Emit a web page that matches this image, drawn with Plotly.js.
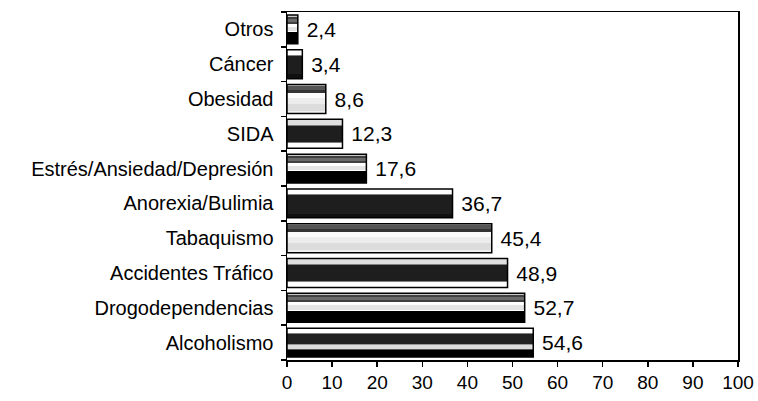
<!DOCTYPE html>
<html>
<head>
<meta charset="utf-8">
<script src="https://cdn.plot.ly/plotly-3.0.1.min.js"></script>
<style>
html,body{margin:0;padding:0;background:#fff;}
#chart{width:758px;height:401px;}
</style>
</head>
<body>
<div id="chart"></div>
<script>
// Data (bottom to top)
const categories = ["Alcoholismo","Drogodependencias","Accidentes Tráfico","Tabaquismo","Anorexia/Bulimia","Estrés/Ansiedad/Depresión","SIDA","Obesidad","Cáncer","Otros"];
const values = [54.6, 52.7, 48.9, 45.4, 36.7, 17.6, 12.3, 8.6, 3.4, 2.4];
const xTicks = [0,10,20,30,40,50,60,70,80,90,100];

// Styles: stripe patterns (fractions from top of bar)
const patterns = {
  A: [[0,0.07,'#c8c8c8'],[0.07,0.14,'#404040'],[0.14,0.24,'#6a6a6a'],[0.24,0.3,'#404040'],[0.3,0.4,'#ffffff'],[0.4,0.56,'#e4e4e4'],[0.56,0.6,'#ffffff'],[0.6,1,'#000000']],
  B: [[0,0.17,'#ffffff'],[0.17,0.21,'#808080'],[0.21,0.85,'#1e1e1e'],[0.85,1,'#101010']],
  C: [[0,0.06,'#c8c8c8'],[0.06,0.18,'#555555'],[0.18,0.3,'#333333'],[0.3,0.45,'#fafafa'],[0.45,0.68,'#ececec'],[0.68,0.92,'#dcdcdc'],[0.92,1,'#eeeeee']],
  D: [[0,0.2,'#e0e0e0'],[0.2,0.23,'#808080'],[0.23,0.78,'#1e1e1e'],[0.78,0.82,'#808080'],[0.82,1,'#ffffff']],
  E: [[0,0.17,'#ffffff'],[0.17,0.2,'#808080'],[0.2,0.56,'#222222'],[0.56,0.58,'#999999'],[0.58,0.73,'#dddddd'],[0.73,0.76,'#555555'],[0.76,1,'#000000']]
};
const barPattern = ['E','A','D','C','B','A','D','C','B','A'];
const W = 0.83;

const maxStripes = Math.max(...Object.values(patterns).map(p=>p.length));
const traces = [];
for (let k=0;k<maxStripes;k++){
  const offs=[], wids=[], cols=[];
  barPattern.forEach(pk=>{
    const p = patterns[pk];
    const s = p[Math.min(k,p.length-1)];
    const a = s[0], b = s[1];
    const valid = k < p.length;
    offs.push(W/2 - b*W);
    wids.push(valid ? (b-a)*W : 0.0001);
    cols.push(s[2]);
  });
  traces.push({
    type:'bar', orientation:'h', x:values, y:categories,
    offset:offs, width:wids,
    marker:{color:cols, line:{width:0}},
    hoverinfo:'skip', showlegend:false
  });
}
traces.push({
  type:'bar', orientation:'h', x:values, y:categories,
  offset:-W/2, width:W,
  marker:{color:'rgba(0,0,0,0)', line:{color:'#000', width:1.5}},
  text: values.map(v=>' '+v.toFixed(1).replace('.',',')),
  textposition:'outside', cliponaxis:false,
  textfont:{family:'Liberation Sans, Arial, sans-serif', size:21, color:'#000'},
  hoverinfo:'skip', showlegend:false
});

const layout = {
  width:758, height:401,
  margin:{l:287, r:20, t:12, b:41},
  paper_bgcolor:'#fff', plot_bgcolor:'#fff',
  barmode:'overlay', bargap:0,
  font:{family:'Liberation Sans, Arial, sans-serif', size:19, color:'#000'},
  xaxis:{range:[0,100], tickvals:xTicks, ticktext:xTicks.map(String),
    tickfont:{size:19},
    ticks:'outside', ticklen:5, tickwidth:1.5, tickcolor:'#000',
    showline:true, linewidth:1.5, linecolor:'#000', mirror:true,
    showgrid:false, zeroline:false, fixedrange:true},
  yaxis:{type:'category', categoryorder:'array', categoryarray:categories,
    range:[-0.5,9.5], tickson:'boundaries',
    tickfont:{size:20},
    ticks:'outside', ticklen:5, tickwidth:1.5, tickcolor:'#000',
    showline:true, linewidth:1.5, linecolor:'#000', mirror:true,
    showgrid:false, zeroline:false, ticklabelstandoff:8, fixedrange:true}
};
Plotly.newPlot('chart', traces, layout, {displayModeBar:false, staticPlot:true});
</script>
</body>
</html>
